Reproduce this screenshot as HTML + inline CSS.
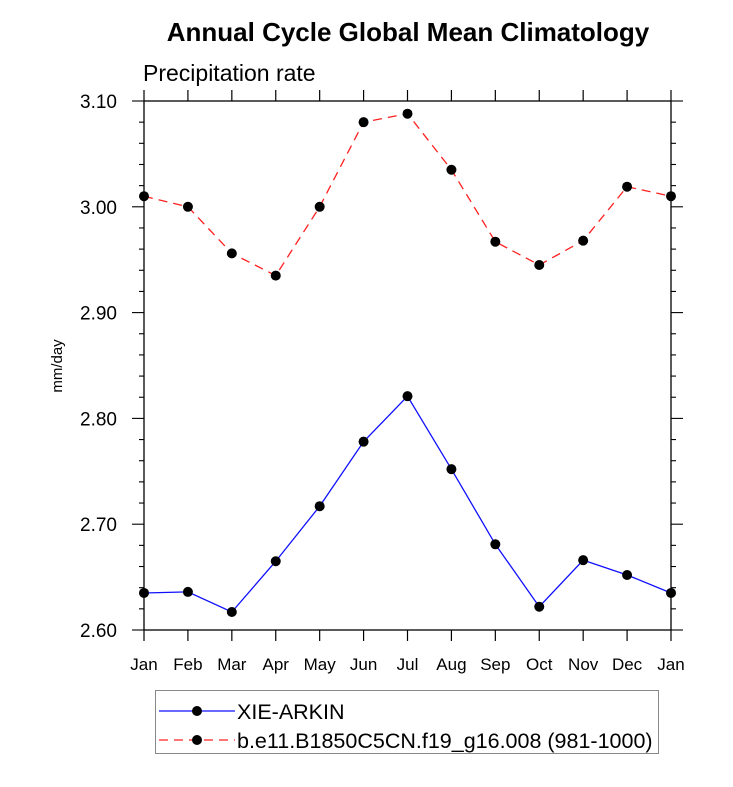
<!DOCTYPE html>
<html><head><meta charset="utf-8"><style>
html,body{margin:0;padding:0;background:#fff;}
svg text{font-family:"Liberation Sans",Arial,sans-serif;}
</style></head><body>
<svg id="chart" width="733" height="782" viewBox="0 0 733 782" xmlns="http://www.w3.org/2000/svg">
<text x="408" y="41" text-anchor="middle" font-size="26" font-weight="bold">Annual Cycle Global Mean Climatology</text>
<text x="143" y="81" font-size="23">Precipitation rate</text>
<text transform="translate(62,366) rotate(-90)" text-anchor="middle" font-size="15">mm/day</text>
<g id="axes"></g>
<g id="series"></g>
<rect x="155.5" y="690.5" width="503" height="63" fill="none" stroke="#888" stroke-width="1"/>
<g>
<line x1="159" y1="711" x2="235" y2="711" stroke="#1010ff" stroke-width="1.3"/>
<circle cx="197" cy="711" r="5" fill="#000"/>
<text x="237" y="719" font-size="21.5">XIE-ARKIN</text>
</g>
<g>
<line x1="159" y1="740" x2="235" y2="740" stroke="#ff2020" stroke-width="1.3" stroke-dasharray="9,6"/>
<circle cx="197" cy="740" r="5" fill="#000"/>
<text x="237" y="748" font-size="21.5">b.e11.B1850C5CN.f19_g16.008 (981-1000)</text>
</g>
</svg>
<script>
const months = ["Jan","Feb","Mar","Apr","May","Jun","Jul","Aug","Sep","Oct","Nov","Dec","Jan"];
const obsValues = [2.635,2.636,2.617,2.665,2.717,2.778,2.821,2.752,2.681,2.622,2.666,2.652,2.635];
const modelValues = [3.010,3.000,2.956,2.935,3.000,3.080,3.088,3.035,2.967,2.945,2.968,3.019,3.010];
const yTicks = [2.60,2.70,2.80,2.90,3.00,3.10];
const yTickLabels = ["2.60","2.70","2.80","2.90","3.00","3.10"];

const X0=144,X1=671,Y0=630,Y1=101,YMIN=2.6,YMAX=3.1;
const xs=i=>X0+(X1-X0)*i/(months.length-1);
const ys=v=>Y0-(v-YMIN)/(YMAX-YMIN)*(Y0-Y1);
const NS="http://www.w3.org/2000/svg";
function mk(tag,attrs,parent){const e=document.createElementNS(NS,tag);for(const k in attrs)e.setAttribute(k,attrs[k]);parent.appendChild(e);return e;}
const axes=document.getElementById('axes');
const frame=mk('rect',{x:X0,y:Y1,width:X1-X0,height:Y0-Y1,fill:'none',stroke:'#000','stroke-width':1.3},axes);


months.forEach((m,i)=>{
  const x=xs(i);
  mk('line',{x1:x,y1:Y0,x2:x,y2:Y0+11,stroke:'#000','stroke-width':1.2},axes);
  mk('line',{x1:x,y1:Y1,x2:x,y2:Y1-11,stroke:'#000','stroke-width':1.2},axes);
  const t=mk('text',{x:x,y:Y0+40,'text-anchor':'middle','font-size':17},axes);
  t.textContent=m;
  
  
});
for(let k=0;k<=25;k++){
  const v=YMIN+k*0.02;const y=ys(v);
  const major=k%5===0;const len=major?12:5;
  mk('line',{x1:X0,y1:y,x2:X0-len,y2:y,stroke:'#000','stroke-width':1.1},axes);
  mk('line',{x1:X1,y1:y,x2:X1+len,y2:y,stroke:'#000','stroke-width':1.1},axes);
}
yTicks.forEach((v,i)=>{
  const t=mk('text',{x:X0-27,y:ys(v)+7,'text-anchor':'end','font-size':19},axes);
  t.textContent=yTickLabels[i];
  
  
});
const ser=document.getElementById('series');
function draw(vals,color,dash,name){
  const pts=vals.map((v,i)=>xs(i)+','+ys(v)).join(' ');
  const pl=mk('polyline',{points:pts,fill:'none',stroke:color,'stroke-width':1.3,'stroke-dasharray':dash},ser);
  
  
  vals.forEach((v,i)=>{
    const c=mk('circle',{cx:xs(i),cy:ys(v),r:5,fill:'#000'},ser);
    
    
  });
}
draw(obsValues,'#1010ff','none','xie-arkin');
draw(modelValues,'#ff2020','9,6','model');
</script>
</body></html>
